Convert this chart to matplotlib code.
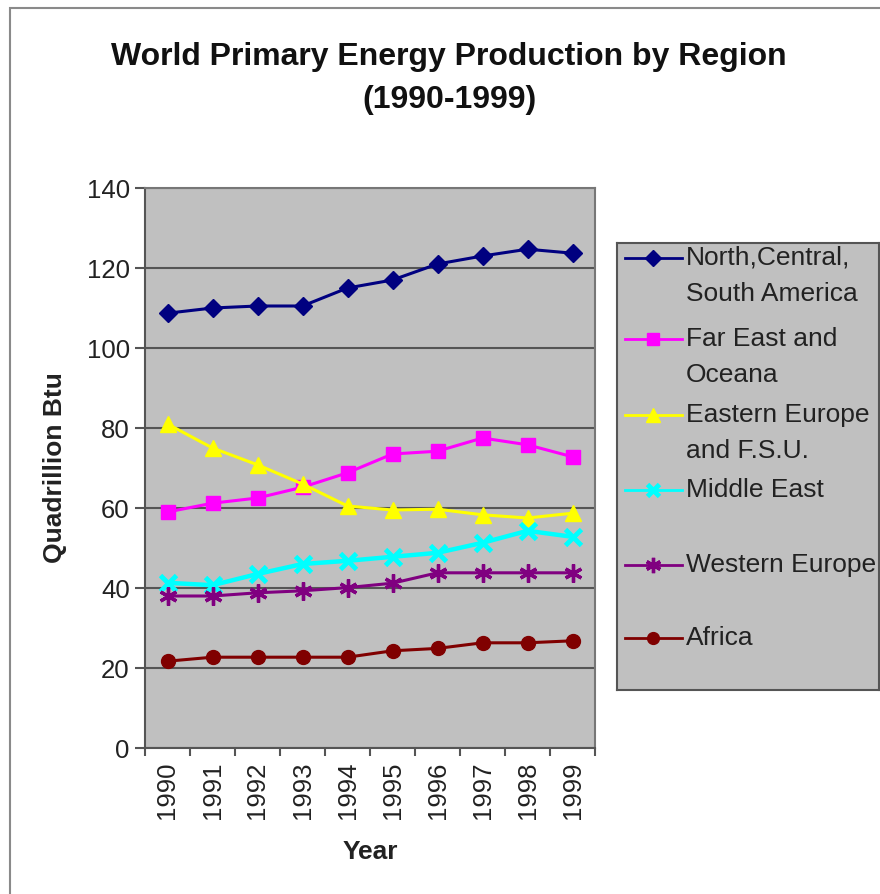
import matplotlib
matplotlib.use("Agg")
import matplotlib.pyplot as plt
from matplotlib.patches import Rectangle

plt.rcParams["font.family"] = ["Liberation Sans", "DejaVu Sans"]

# 数据：数值（Quadrillion Btu）
years = ["1990", "1991", "1992", "1993", "1994", "1995", "1996", "1997", "1998", "1999"]
north_america = [108.7, 110.0, 110.5, 110.5, 115.0, 117.0, 121.0, 123.0, 124.7, 123.7]
far_east = [59.0, 61.2, 62.5, 65.2, 68.8, 73.5, 74.2, 77.5, 75.8, 72.8]
eastern_europe = [81.0, 75.0, 70.8, 66.0, 60.5, 59.5, 59.7, 58.3, 57.5, 58.7]
middle_east = [41.3, 40.7, 43.5, 46.0, 46.8, 47.8, 48.8, 51.3, 54.3, 52.8]
western_europe = [38.0, 38.0, 38.8, 39.3, 40.1, 41.2, 43.8, 43.8, 43.8, 43.8]
africa = [21.7, 22.7, 22.7, 22.7, 22.7, 24.3, 24.9, 26.3, 26.3, 26.8]

labels = [
    "North,Central,\nSouth America",
    "Far East and\nOceana",
    "Eastern Europe\nand F.S.U.",
    "Middle East",
    "Western Europe",
    "Africa",
]
all_series = [north_america, far_east, eastern_europe, middle_east, western_europe, africa]

# 样式
colors = ["#000080", "#ff00ff", "#ffff00", "#00ffff", "#800080", "#800000"]
markers = ["D", "s", "^", "x", (6, 2, 0), "o"]
msizes = [9, 10, 12, 11, 13, 10]
mews = [1, 1, 1, 3.5, 2.4, 1]
lws = [2.2, 2.2, 2.2, 3.2, 2.2, 2.2]

W, H = 880, 894
fig = plt.figure(figsize=(W / 100, H / 100), dpi=100)


def px(x0, y0, x1, y1):
    # 像素坐标 -> figure 比例
    return [x0 / W, 1 - y1 / H, (x1 - x0) / W, (y1 - y0) / H]


# 外框（左上可见，右下被裁掉）
fig.patches.append(Rectangle((10 / W, -0.1), 1.2, 1 - 8 / H + 0.1, transform=fig.transFigure,
                             fill=False, edgecolor="#8a8a8a", lw=1.5))

ax = fig.add_axes(px(145, 188, 595, 748))
ax.set_facecolor("#c0c0c0")
x = list(range(len(years)))
for ys, c, m, ms, mew, lw in zip(all_series, colors, markers, msizes, mews, lws):
    ax.plot(x, ys, color=c, marker=m, markersize=ms, markeredgewidth=mew,
            markeredgecolor=c, lw=lw, zorder=3)

ax.set_xlim(-0.5, 9.5)
ax.set_ylim(0, 140)
ax.set_yticks(range(0, 141, 20))
ax.yaxis.grid(True, color="#555555", lw=1.5)
ax.set_axisbelow(True)

ax.set_xticks([i - 0.5 for i in range(11)])
ax.set_xticklabels([])
ax.set_xticks(x, minor=True)
ax.set_xticklabels(years, minor=True, rotation=90, fontsize=18.5, color="#222222")
ax.tick_params(axis="x", which="major", direction="out", length=6, width=1.5, color="#555555")
ax.tick_params(axis="x", which="minor", length=0, pad=10)
ax.tick_params(axis="y", direction="out", length=7, width=1.5, color="#555555",
               labelsize=18.5, labelcolor="#222222", pad=4)
for s in ax.spines.values():
    s.set_color("#777777")
    s.set_linewidth(1.5)
ax.spines["left"].set_color("#555555")
ax.spines["bottom"].set_color("#555555")

# 标题和坐标轴标题
fig.text(449 / W, 1 - 57 / H, "World Primary Energy Production by Region", ha="center", va="center",
         fontsize=23, fontweight="bold", color="#111111")
fig.text(449 / W, 1 - 100 / H, "(1990-1999)", ha="center", va="center",
         fontsize=23, fontweight="bold", color="#111111")
fig.text(55 / W, 1 - 468 / H, "Quadrillion Btu", ha="center", va="center", rotation=90,
         fontsize=19, fontweight="bold", color="#222222")
fig.text(370 / W, 1 - 852 / H, "Year", ha="center", va="center",
         fontsize=19, fontweight="bold", color="#222222")

# 图例：手工画，第一行文字对齐图例线
lax = fig.add_axes(px(617, 243, 879, 690))
lax.set_facecolor("#c0c0c0")
lax.set_xlim(617, 879)
lax.set_ylim(690, 243)
lax.set_xticks([])
lax.set_yticks([])
for s in lax.spines.values():
    s.set_color("#555555")
    s.set_linewidth(1.5)
entry_y = [258, 339, 415, 490, 565, 638]
for ey, lab, c, m, ms, mew in zip(entry_y, labels, colors, markers, msizes, mews):
    lax.plot([625, 682], [ey, ey], color=c, lw=2)
    lax.plot([653], [ey], color=c, marker=m, markersize=ms * 0.85, markeredgewidth=mew,
             markeredgecolor=c)
    for k, line in enumerate(lab.split("\n")):
        lax.text(686, ey + k * 36, line, ha="left", va="center", fontsize=19, color="#222222")

fig.savefig("out.png", dpi=100)
